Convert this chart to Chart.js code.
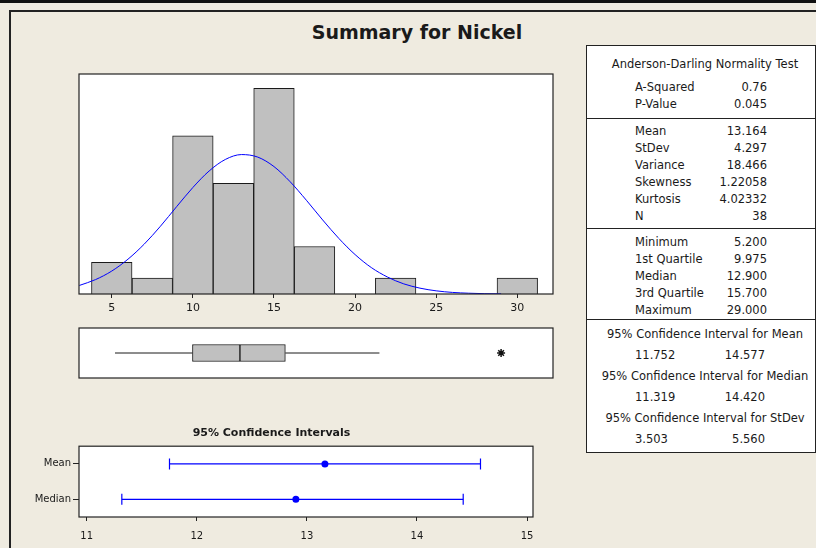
<!DOCTYPE html>
<html>
<head>
<meta charset="utf-8">
<script src="https://cdn.jsdelivr.net/npm/chart.js@4.4.1/dist/chart.umd.min.js"></script>
<style>
body { margin: 0; width: 816px; height: 548px; overflow: hidden; background: #efebe0; position: relative; font-family: "DejaVu Sans", sans-serif; color: #1a1a1a; }
#topline { position: absolute; left: 0; top: 0; width: 816px; height: 3px; background: #111; }
#frame { position: absolute; left: 9px; top: 10px; width: 900px; height: 600px; border: 2px solid #222; }
#title { position: absolute; left: 267px; width: 300px; top: 20px; text-align: center; font-weight: bold; font-size: 19px; line-height: 24px; }
canvas { position: absolute; }
#stats { position: absolute; left: 586px; top: 45px; width: 228px; height: 406px; border: 1px solid #222; background: #fff; font-size: 11.5px; }
#stats span { position: absolute; white-space: nowrap; line-height: 14px; height: 14px; }
#stats .sep { position: absolute; left: 0; width: 228px; height: 0; border-top: 1px solid #222; }
</style>
</head>
<body>
<div id="topline"></div>
<div id="frame"></div>
<div id="title">Summary for Nickel</div>
<canvas id="hist" width="500" height="260" style="left:70px;top:64px"></canvas>
<canvas id="box" width="500" height="70" style="left:70px;top:318px"></canvas>
<canvas id="ci" width="592" height="120" style="left:10px;top:422px"></canvas>
<div id="stats"></div>

<script>
// histogram bins (width 2.5) and counts
const binCenters = [5, 7.5, 10, 12.5, 15, 17.5, 20, 22.5, 25, 27.5, 30];
const binCounts = [2, 1, 10, 7, 13, 3, 0, 1, 0, 0, 1];
const histTicks = [5, 10, 15, 20, 25, 30];

// fitted normal curve
const fitX = [3, 4, 5, 6, 7, 8, 9, 10, 11, 12, 13, 14, 15, 16, 17, 18, 19, 20, 21, 22, 23, 24, 25, 26, 27, 28, 29];
const fitY = [0.54, 0.91, 1.45, 2.2, 3.15, 4.28, 5.52, 6.73, 7.77, 8.5, 8.81, 8.65, 8.05, 7.09, 5.92, 4.68, 3.51, 2.49, 1.67, 1.07, 0.64, 0.37, 0.2, 0.1, 0.05, 0.02, 0.01];

// boxplot
const boxMin = 5.2, boxQ1 = 9.975, boxMedian = 12.9, boxQ3 = 15.7, whiskerHigh = 21.5;
const outliers = [29];

// 95% confidence intervals
const ciLabels = ['Mean', 'Median'];
const ciLow = [11.752, 11.319];
const ciEst = [13.164, 12.9];
const ciHigh = [14.577, 14.42];
const ciTicks = [11, 12, 13, 14, 15];

// stats table
const adLabels = ['A-Squared', 'P-Value'];
const adValues = ['0.76', '0.045'];
const descLabels = ['Mean', 'StDev', 'Variance', 'Skewness', 'Kurtosis', 'N'];
const descValues = ['13.164', '4.297', '18.466', '1.22058', '4.02332', '38'];
const quartLabels = ['Minimum', '1st Quartile', 'Median', '3rd Quartile', 'Maximum'];
const quartValues = ['5.200', '9.975', '12.900', '15.700', '29.000'];
const ciHeads = ['95% Confidence Interval for Mean', '95% Confidence Interval for Median', '95% Confidence Interval for StDev'];
const ciTableLow = ['11.752', '11.319', '3.503'];
const ciTableHigh = ['14.577', '14.420', '5.560'];

Chart.defaults.font.family = '"DejaVu Sans", sans-serif';
Chart.defaults.font.size = 10;
Chart.defaults.color = '#1a1a1a';
Chart.defaults.animation = false;

const framePlugin = {
    id: 'frame',
    beforeDraw(chart) {
        const a = chart.chartArea, ctx = chart.ctx;
        ctx.save();
        ctx.fillStyle = '#fff';
        ctx.fillRect(a.left, a.top, a.right - a.left, a.bottom - a.top);
        ctx.restore();
    },
    afterDraw(chart) {
        const a = chart.chartArea, ctx = chart.ctx;
        ctx.save();
        ctx.strokeStyle = '#222';
        ctx.lineWidth = 1.2;
        ctx.strokeRect(a.left, a.top, a.right - a.left, a.bottom - a.top);
        ctx.restore();
    }
};

const histXMin = 2.98, histXMax = 32.2;

new Chart(document.getElementById('hist'), {
    type: 'bar',
    data: {
        datasets: [
            {
                type: 'line',
                data: fitX.map((x, i) => ({ x: x, y: fitY[i] })),
                borderColor: '#0000ff',
                borderWidth: 1,
                pointRadius: 0,
                cubicInterpolationMode: 'monotone',
                order: 0
            },
            {
                data: binCenters.map((x, i) => ({ x: x, y: binCounts[i] })),
                backgroundColor: '#c0c0c0',
                borderColor: '#1a1a1a',
                borderWidth: 1,
                barPercentage: 1,
                categoryPercentage: 1,
                order: 1
            }
        ]
    },
    options: {
        responsive: false,
        devicePixelRatio: 1,
        layout: { padding: { left: 9, right: 17, top: 10, bottom: 0 } },
        plugins: { legend: { display: false }, tooltip: { enabled: false } },
        scales: {
            x: {
                type: 'linear', min: histXMin, max: histXMax, offset: false,
                afterBuildTicks: s => { s.ticks = histTicks.map(v => ({ value: v })); },
                afterFit: s => { s.height = 30; },
                grid: { drawOnChartArea: false, drawTicks: true, tickLength: 4, color: '#222', offset: false },
                border: { display: false },
                ticks: { padding: 4, font: { size: 11 }, maxRotation: 0 }
            },
            y: { min: 0, max: 13.9, display: false }
        }
    },
    plugins: [framePlugin]
});

new Chart(document.getElementById('box'), {
    type: 'bar',
    data: {
        labels: ['Nickel'],
        datasets: [
            { data: [[boxQ1, boxMedian]], backgroundColor: '#c0c0c0', borderColor: '#1a1a1a', borderWidth: 1, borderSkipped: false, barThickness: 17, grouped: false },
            { data: [[boxMedian, boxQ3]], backgroundColor: '#c0c0c0', borderColor: '#1a1a1a', borderWidth: 1, borderSkipped: false, barThickness: 17, grouped: false },
            { type: 'line', data: [{ x: boxMin, y: 'Nickel' }, { x: boxQ1, y: 'Nickel' }], borderColor: '#1a1a1a', borderWidth: 1, pointRadius: 0 },
            { type: 'line', data: [{ x: boxQ3, y: 'Nickel' }, { x: whiskerHigh, y: 'Nickel' }], borderColor: '#1a1a1a', borderWidth: 1, pointRadius: 0 },
            { type: 'line', data: outliers.map(v => ({ x: v, y: 'Nickel' })), showLine: false, pointStyle: 'star', pointRadius: 4, borderColor: '#111', pointBorderWidth: 1.5 }
        ]
    },
    options: {
        indexAxis: 'y',
        responsive: false,
        devicePixelRatio: 1,
        layout: { padding: { left: 9, right: 17, top: 10, bottom: 10 } },
        plugins: { legend: { display: false }, tooltip: { enabled: false } },
        scales: {
            x: { type: 'linear', min: histXMin, max: histXMax, offset: false, display: false },
            y: { type: 'category', offset: true, display: false }
        }
    },
    plugins: [framePlugin]
});

const ciSets = [];
ciLabels.forEach((lab, i) => {
    ciSets.push({
        data: [{ x: ciLow[i], y: lab }, { x: ciHigh[i], y: lab }],
        borderColor: '#0000ff', borderWidth: 1.2,
        pointStyle: 'line', pointRotation: 90, pointRadius: 5.5,
        pointBorderColor: '#0000ff', pointBorderWidth: 1.2
    });
    ciSets.push({
        data: [{ x: ciEst[i], y: lab }],
        showLine: false, pointStyle: 'circle', pointRadius: 3.5,
        pointBackgroundColor: '#0000ff', pointBorderColor: '#0000ff', pointBorderWidth: 0
    });
});

new Chart(document.getElementById('ci'), {
    type: 'line',
    data: { datasets: ciSets },
    options: {
        responsive: false,
        devicePixelRatio: 1,
        layout: { padding: { left: 0, right: 69, top: 0, bottom: 0 } },
        plugins: {
            legend: { display: false },
            tooltip: { enabled: false },
            title: { display: true, text: '95% Confidence Intervals', font: { size: 11, weight: 'bold' }, color: '#1a1a1a', padding: { top: 5, bottom: 6 } }
        },
        scales: {
            x: {
                type: 'linear', min: 10.93, max: 15.054,
                afterBuildTicks: s => { s.ticks = ciTicks.map(v => ({ value: v })); },
                afterFit: s => { s.height = 25; },
                grid: { drawOnChartArea: false, drawTicks: true, tickLength: 4, color: '#222' },
                border: { display: false },
                ticks: { padding: 9, font: { size: 10 }, maxRotation: 0 }
            },
            y: {
                type: 'category', labels: ciLabels, offset: true,
                afterFit: s => { s.width = 69; },
                grid: { drawOnChartArea: false, drawTicks: true, tickLength: 6, color: '#222' },
                border: { display: false },
                ticks: { padding: 2, font: { size: 10 } }
            }
        }
    },
    plugins: [framePlugin]
});

// stats table
const stats = document.getElementById('stats');
function put(text, y, left, width, align) {
    const s = document.createElement('span');
    s.textContent = text;
    s.style.top = (y - 46 - 7) + 'px';
    s.style.left = left + 'px';
    s.style.width = width + 'px';
    s.style.textAlign = align;
    stats.appendChild(s);
}
function sep(y) {
    const d = document.createElement('div');
    d.className = 'sep';
    d.style.top = (y - 46) + 'px';
    stats.appendChild(d);
}
put('Anderson-Darling Normality Test', 64, 4, 228, 'center');
adLabels.forEach((t, i) => { put(t, 87 + i * 17, 48, 100, 'left'); put(adValues[i], 87 + i * 17, 100, 80, 'right'); });
sep(118);
descLabels.forEach((t, i) => { put(t, 131 + i * 17, 48, 100, 'left'); put(descValues[i], 131 + i * 17, 100, 80, 'right'); });
sep(228);
quartLabels.forEach((t, i) => { put(t, 242 + i * 17, 48, 100, 'left'); put(quartValues[i], 242 + i * 17, 100, 80, 'right'); });
sep(319);
ciHeads.forEach((t, i) => {
    const y = 334 + i * 42;
    put(t, y, 4, 228, 'center');
    put(ciTableLow[i], y + 21, 48, 80, 'left');
    put(ciTableHigh[i], y + 21, 98, 80, 'right');
});
</script>
</body>
</html>
